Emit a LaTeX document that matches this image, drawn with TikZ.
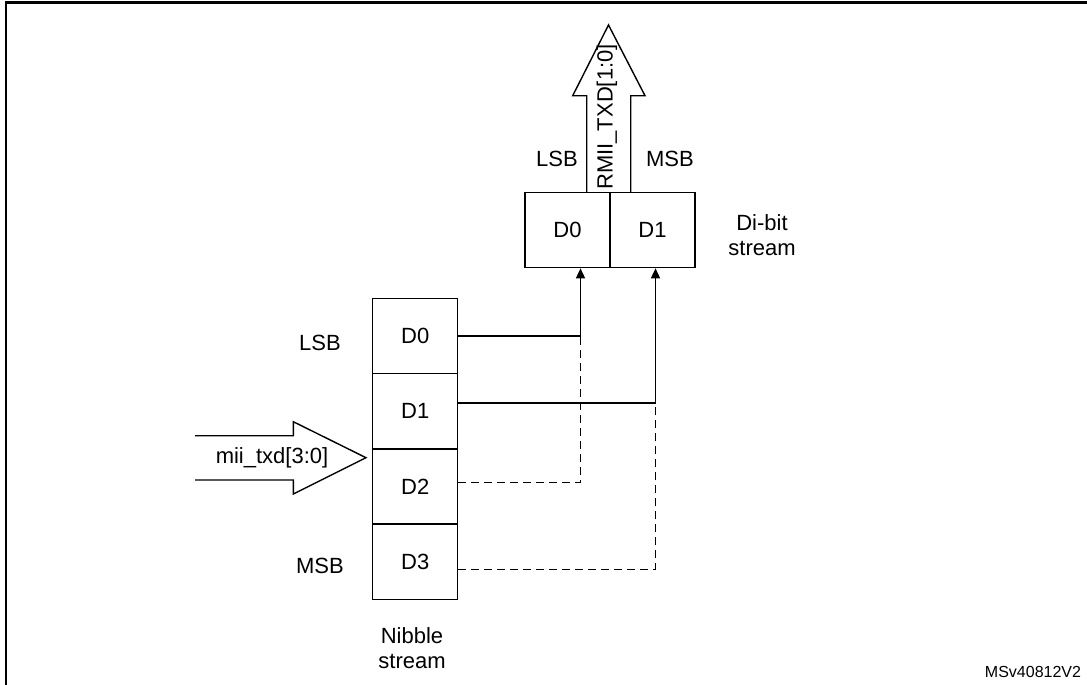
\documentclass[tikz,border=0pt]{standalone}
\usepackage{fontspec}
\setmainfont{Liberation Sans}
\usetikzlibrary{calc,arrows.meta}

\begin{document}
\begin{tikzpicture}[x=0.5pt,y=-0.5pt,
		cell/.style={draw,line width=0.7pt,minimum width=42.5pt,minimum height=37.6pt,inner sep=0pt,font=\fontsize{11}{13}\selectfont},
		lbl/.style={font=\fontsize{11}{12.5}\selectfont,align=center},
		wire/.style={line width=0.7pt},
		dwire/.style={wire,dash pattern=on 4pt off 2.5pt},
		tip/.style={-{Triangle[length=5pt,width=4.5pt]}}]
				\useasboundingbox (0,0) rectangle (1087,685);
				\draw[line width=1.4pt] (6,685) -- (6,2.5) -- (1087,2.5);
				
				% nibble stream
				\node[cell] (n0) at (415.2,335.8) {D0};
				\node[cell] (n1) at (415.2,411.1) {D1};
				\node[cell] (n2) at (415.2,486.4) {D2};
				\node[cell] (n3) at (415.2,561.7) {D3};
				\node[lbl] (lsbn) at (320,343) {LSB};
				\node[lbl] (msbn) at (320,566) {MSB};
				\node[lbl] (nib) at (412,648) {Nibble\\stream};
				
				% di-bit stream
				\node[cell] (d0) at (567.5,230) {D0};
				\node[cell] (d1) at (652.5,230) {D1};
				\node[lbl] (lsbd) at (557,159) {LSB};
				\node[lbl] (msbd) at (670,159) {MSB};
				\node[lbl] (dib) at (762,235) {Di-bit\\stream};
				
				% input arrow
				\draw[wire] (195,435.7) -- (293.3,435.7) -- (293.3,421.7) -- (366,457.7) -- (293.3,494) -- (293.3,480) -- (195,480);
				\node[lbl] (mii) at (272,458) {mii\_txd[3:0]};
				
				% output arrow
				\draw[wire] (586.7,192.5) -- (586.7,95.7) -- (572.7,95.7) -- (608.5,25) -- (645,95.7) -- (630.7,95.7) -- (630.7,192.5);
				\node[lbl,rotate=90] (rmii) at (607,117) {RMII\_TXD[1:0]};
				
				% wires
				\coordinate (up0) at ($(d0.south)+(13,0)$);
				\coordinate (up1) at ($(d1.south)+(3,0)$);
				\coordinate (k1) at ($(n1.east)+(0,-8)$);
				\draw[wire,tip] (n0.east) -| (up0);
				\draw[wire,tip] (k1) -| (up1);
				\draw[dwire] ($(n2.east)+(0,-4)$) -| (n0.east -| up0);
				\draw[dwire] ($(n3.east)+(0,7.5)$) -| (k1 -| up1);
				
				\node[font=\fontsize{8}{10}\selectfont] (ref) at (1033,671.5) {MSv40812V2};
			\end{tikzpicture}
\end{document}
